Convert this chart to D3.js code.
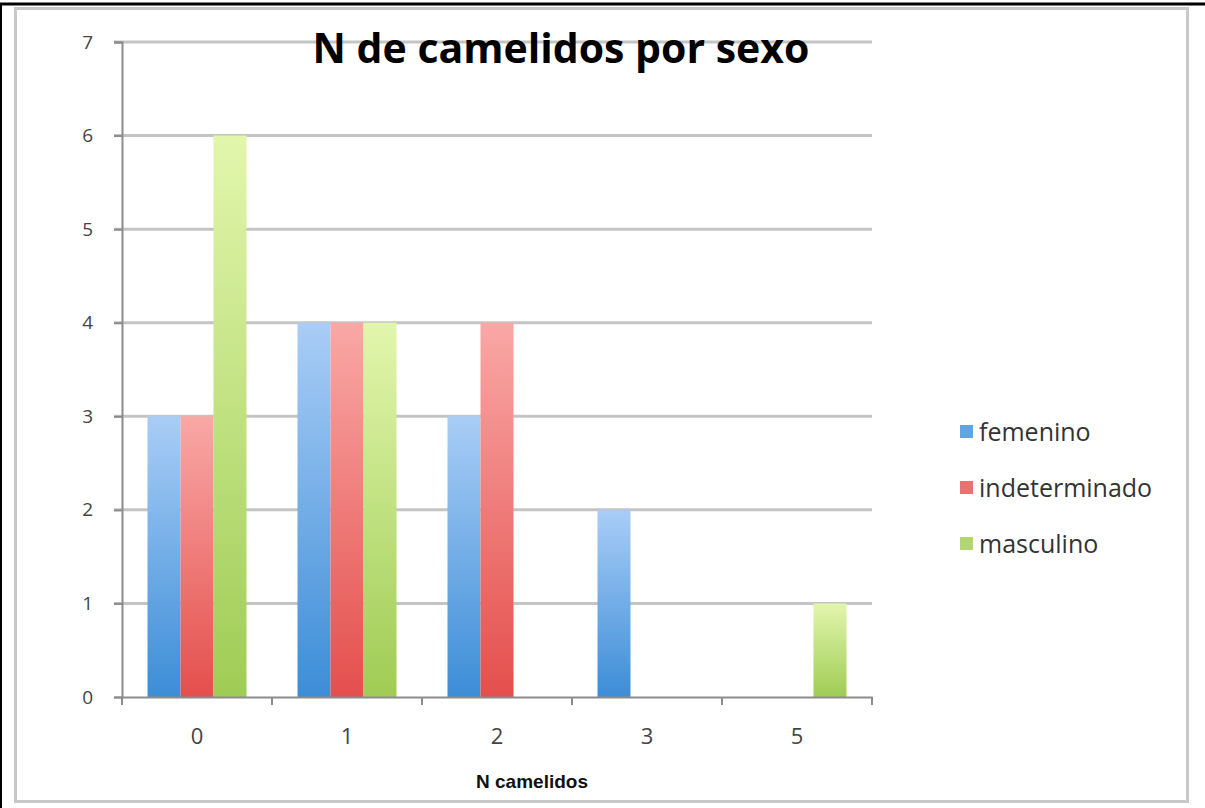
<!DOCTYPE html>
<html>
<head>
<meta charset="utf-8">
<title>N de camelidos por sexo</title>
<script src="https://cdnjs.cloudflare.com/ajax/libs/d3/7.8.5/d3.min.js"></script>
<style>
  body { margin: 0; background: #fff; }
  svg { display: block; }
</style>
</head>
<body>
<script>
  // chart data
  var categories = ["0", "1", "2", "3", "5"];
  var seriesNames = ["femenino", "indeterminado", "masculino"];
  var femenino = [3, 4, 3, 2, 0];
  var indeterminado = [3, 4, 4, 0, 0];
  var masculino = [6, 4, 0, 0, 1];
  var yTicks = [0, 1, 2, 3, 4, 5, 6, 7];

  var seriesValues = [femenino, indeterminado, masculino];
  var colors = [
    { top: "#a9cdf6", bottom: "#3c8dd7" },
    { top: "#f9a8a6", bottom: "#e44f4c" },
    { top: "#e2f6ac", bottom: "#9fcc55" }
  ];

  var W = 1205, H = 808;
  var svg = d3.select("body").append("svg")
      .attr("width", W)
      .attr("height", H);

  // outer frame
  svg.append("rect")
      .attr("x", 15.5).attr("y", 8.5)
      .attr("width", 1172).attr("height", 793)
      .attr("fill", "#fff")
      .attr("stroke", "#c8c8c8")
      .attr("stroke-width", 3);
  svg.append("line")
      .attr("x1", 0).attr("x2", W).attr("y1", 4).attr("y2", 4)
      .attr("stroke", "#000").attr("stroke-width", 3);
  svg.append("line")
      .attr("x1", 1).attr("x2", 1).attr("y1", 3).attr("y2", H)
      .attr("stroke", "#000").attr("stroke-width", 2);

  var defs = svg.append("defs");
  colors.forEach(function(c, i) {
    var g = defs.append("linearGradient")
        .attr("id", "grad" + i)
        .attr("x1", 0).attr("y1", 0).attr("x2", 0).attr("y2", 1);
    g.append("stop").attr("offset", "0%").attr("stop-color", c.top);
    g.append("stop").attr("offset", "100%").attr("stop-color", c.bottom);
  });

  var plotL = 122, plotR = 872, plotT = 42, plotB = 697;

  var x = d3.scaleBand()
      .domain(categories)
      .range([plotL, plotR])
      .paddingInner(0.34)
      .paddingOuter(0.17);
  var xs = d3.scaleBand()
      .domain(seriesNames)
      .range([0, x.bandwidth()]);
  var y = d3.scaleLinear()
      .domain([0, 7])
      .range([plotB, plotT]);

  // gridlines
  svg.append("g")
    .selectAll("line")
    .data(yTicks.slice(1))
    .join("line")
      .attr("x1", plotL - 8).attr("x2", plotR)
      .attr("y1", function(d) { return y(d); })
      .attr("y2", function(d) { return y(d); })
      .attr("stroke", "#c4c4c4")
      .attr("stroke-width", 3);

  // bars
  var groups = svg.append("g")
    .selectAll("g")
    .data(seriesNames)
    .join("g")
      .attr("fill", function(d, i) { return "url(#grad" + i + ")"; });

  groups.selectAll("rect")
    .data(function(d, i) {
      return seriesValues[i].map(function(v, j) {
        return { s: d, cat: categories[j], v: v };
      });
    })
    .join("rect")
      .attr("x", function(d) { return x(d.cat) + xs(d.s); })
      .attr("y", function(d) { return y(d.v); })
      .attr("width", xs.bandwidth())
      .attr("height", function(d) { return y(0) - y(d.v); });

  // y axis
  var yAxis = svg.append("g")
      .attr("transform", "translate(" + plotL + ",0)")
      .call(d3.axisLeft(y).tickValues(yTicks).tickFormat(d3.format("d")).tickSize(8).tickPadding(21));
  yAxis.select(".domain").attr("stroke", "#8c8c8c").attr("stroke-width", 2);
  yAxis.selectAll(".tick line").attr("stroke", "#8c8c8c").attr("stroke-width", 2);
  yAxis.selectAll("text")
      .style("font-family", "'Open Sans', sans-serif")
      .style("font-size", "19px")
      .attr("fill", "#444");

  // x axis
  var xAxis = svg.append("g")
      .attr("transform", "translate(0," + plotB + ")")
      .call(d3.axisBottom(x).tickSize(0).tickPadding(31));
  xAxis.select(".domain").attr("stroke", "#8c8c8c").attr("stroke-width", 2);
  xAxis.selectAll("text")
      .style("font-family", "'Open Sans', sans-serif")
      .style("font-size", "22px")
      .attr("fill", "#444");
  // category boundary ticks
  var bounds = d3.range(categories.length + 1).map(function(i) {
    return plotL + i * (plotR - plotL) / categories.length;
  });
  xAxis.selectAll(".bound")
    .data(bounds)
    .join("line")
      .attr("class", "bound")
      .attr("x1", function(d) { return d; })
      .attr("x2", function(d) { return d; })
      .attr("y1", 0).attr("y2", 8)
      .attr("stroke", "#8c8c8c")
      .attr("stroke-width", 2);

  // title
  svg.append("text")
      .attr("x", 561)
      .attr("y", 63)
      .attr("text-anchor", "middle")
      .attr("font-family", "'Open Sans', sans-serif")
      .attr("font-weight", "bold")
      .attr("font-size", 41)
      .attr("fill", "#000")
      .text("N de camelidos por sexo");

  // x axis title
  svg.append("text")
      .attr("x", 532)
      .attr("y", 788)
      .attr("text-anchor", "middle")
      .attr("font-family", "'Liberation Sans', Arial, sans-serif")
      .attr("font-weight", "bold")
      .attr("font-size", 19)
      .attr("fill", "#111")
      .text("N camelidos");

  // legend
  var legend = svg.append("g")
    .selectAll("g")
    .data(seriesNames)
    .join("g")
      .attr("transform", function(d, i) { return "translate(960," + (432 + i * 56) + ")"; });
  legend.append("rect")
      .attr("x", 0).attr("y", -7)
      .attr("width", 13).attr("height", 13)
      .attr("fill", function(d, i) { return colors[i].bottom; })
      .attr("opacity", 0.8);
  legend.append("text")
      .attr("x", 19)
      .attr("y", 0)
      .attr("dy", "0.35em")
      .attr("font-family", "'Open Sans', sans-serif")
      .attr("font-size", 25)
      .attr("fill", "#333")
      .text(function(d) { return d; });
</script>
</body>
</html>
